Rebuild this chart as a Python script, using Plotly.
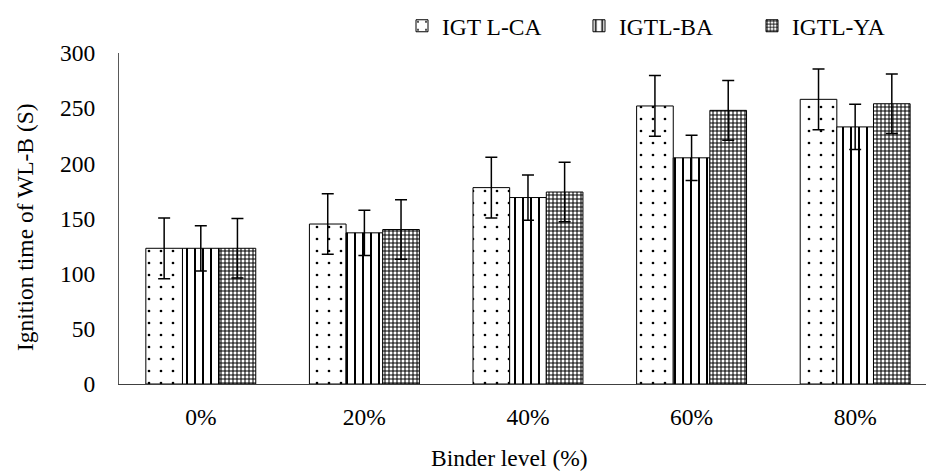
import plotly.graph_objects as go

categories = ["0%", "20%", "40%", "60%", "80%"]
series_names = ["IGT L-CA", "IGTL-BA", "IGTL-YA"]
lca_values = [123, 145, 178, 252, 258]
ba_values = [123, 137, 169, 205, 233]
ya_values = [123, 140, 174, 248, 254]
lca_err = [27.5, 27.5, 27.5, 27.5, 27.5]
ba_err = [20.5, 20.5, 20.5, 20.5, 20.5]
ya_err = [27, 27, 27, 27, 27]
y_ticks = [0, 50, 100, 150, 200, 250, 300]
x_title = "Binder level (%)"
y_title = "Ignition time of WL-B (S)"

FONT = "Liberation Serif"
FS = 23.5

patterns = [
    dict(shape=".", size=12, solidity=0.04, fgcolor="black", bgcolor="white", fillmode="replace"),
    dict(shape="|", size=8, solidity=0.25, fgcolor="black", bgcolor="white", fillmode="replace"),
    dict(shape="+", size=4, solidity=0.45, fgcolor="black", bgcolor="white", fillmode="replace"),
]
legend_ids = ["legend", "legend2", "legend3"]
legend_x = [0.3507, 0.570, 0.7844]

fig = go.Figure()
for name, vals, errs, pat, lid in zip(series_names, [lca_values, ba_values, ya_values],
                                      [lca_err, ba_err, ya_err], patterns, legend_ids):
    fig.add_trace(go.Bar(
        name=name, x=categories, y=vals, legend=lid,
        marker=dict(color="white", pattern=pat, line=dict(color="black", width=1)),
        error_y=dict(type="data", array=errs, visible=True, color="black", thickness=1.5, width=6),
    ))

legend_common = dict(orientation="h", y=1.0816, yanchor="middle", xanchor="left",
                     font=dict(family=FONT, size=FS, color="black"),
                     itemwidth=30, bgcolor="rgba(0,0,0,0)")

fig.update_layout(
    width=926, height=471,
    margin=dict(l=119, r=0, t=53, b=87),
    paper_bgcolor="white", plot_bgcolor="white",
    barmode="group", bargap=0.328, bargroupgap=0,
    font=dict(family=FONT, size=FS, color="black"),
    showlegend=True,
    legend=dict(x=legend_x[0], **legend_common),
    legend2=dict(x=legend_x[1], **legend_common),
    legend3=dict(x=legend_x[2], **legend_common),
    annotations=[
        dict(text=x_title, xref="paper", yref="paper", x=0.4833, y=-0.2236,
             xanchor="center", yanchor="middle", showarrow=False,
             font=dict(family=FONT, size=FS, color="black")),
        dict(text=y_title, xref="paper", yref="paper", x=-0.1165, y=0.4743,
             xanchor="center", yanchor="middle", showarrow=False, textangle=-90,
             font=dict(family=FONT, size=FS, color="black")),
    ],
)
fig.update_xaxes(
    range=[-0.5, 4.433], showline=True, linecolor="#404040", linewidth=1.3,
    showgrid=False, zeroline=False,
    ticks="outside", ticklen=12, tickcolor="rgba(0,0,0,0)",
    tickfont=dict(family=FONT, size=FS),
)
fig.update_yaxes(
    range=[0, 300], tickvals=y_ticks, showline=True, linecolor="#595959", linewidth=1.3,
    showgrid=False, zeroline=False,
    ticks="outside", ticklen=18, tickcolor="rgba(0,0,0,0)",
    tickfont=dict(family=FONT, size=FS),
)

fig.write_html("out.html")
